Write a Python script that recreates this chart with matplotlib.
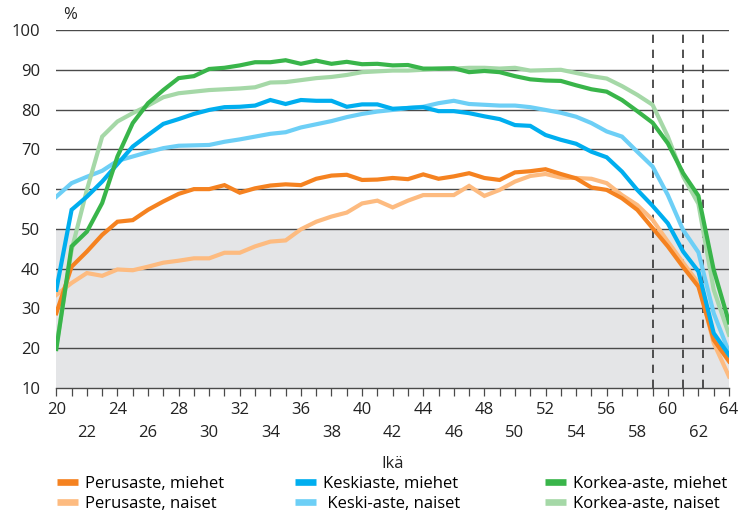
import matplotlib
matplotlib.use("Agg")
import matplotlib.pyplot as plt
import numpy as np

plt.rcParams['font.family'] = ['Open Sans', 'DejaVu Sans']

ages = list(range(20, 65))

perus_miehet = [28.8, 40.5, 44.3, 48.5, 51.8, 52.2, 54.8, 56.9, 58.8, 60.0,
                60.0, 61.0, 59.1, 60.2, 60.9, 61.2, 61.0, 62.6, 63.4, 63.6,
                62.3, 62.4, 62.8, 62.5, 63.7, 62.6, 63.2, 64.0, 62.8, 62.3,
                64.2, 64.5, 65.0, 63.8, 62.7, 60.4, 59.8, 57.7, 54.8, 50.2,
                45.6, 40.4, 35.5, 22.1, 16.7]
perus_naiset = [33.4, 36.4, 38.9, 38.2, 39.8, 39.6, 40.5, 41.5, 42.0, 42.6,
                42.6, 44.0, 44.0, 45.6, 46.8, 47.1, 49.9, 51.8, 53.1, 54.1,
                56.4, 57.1, 55.4, 57.1, 58.5, 58.5, 58.5, 60.8, 58.3, 59.8,
                61.9, 63.3, 63.8, 62.9, 62.8, 62.6, 61.5, 58.5, 56.0, 52.3,
                46.8, 41.5, 36.4, 21.3, 12.9]
keski_miehet = [34.7, 54.8, 58.1, 61.9, 66.3, 70.7, 73.6, 76.4, 77.6, 78.9,
                79.9, 80.6, 80.7, 81.0, 82.4, 81.4, 82.4, 82.2, 82.2, 80.7,
                81.3, 81.3, 80.2, 80.4, 80.6, 79.6, 79.6, 79.1, 78.3, 77.6,
                76.1, 75.9, 73.6, 72.4, 71.4, 69.4, 68.0, 64.4, 59.8, 55.8,
                51.4, 44.3, 39.3, 23.8, 18.3]
keski_naiset = [58.1, 61.5, 63.1, 64.6, 67.1, 68.2, 69.3, 70.3, 70.9, 71.0,
                71.1, 71.9, 72.5, 73.2, 73.9, 74.3, 75.5, 76.3, 77.1, 78.1,
                78.9, 79.5, 79.9, 80.4, 80.7, 81.6, 82.2, 81.4, 81.2, 81.0,
                81.0, 80.6, 79.9, 79.2, 78.2, 76.6, 74.5, 73.2, 69.4, 65.7,
                58.5, 49.7, 44.1, 28.8, 19.0]
korkea_miehet = [19.8, 45.6, 49.3, 56.5, 68.2, 76.6, 81.6, 84.9, 87.9, 88.4,
                 90.2, 90.5, 91.1, 91.9, 91.9, 92.4, 91.5, 92.3, 91.5, 92.0,
                 91.4, 91.5, 91.1, 91.2, 90.3, 90.3, 90.4, 89.4, 89.7, 89.4,
                 88.4, 87.6, 87.3, 87.2, 86.1, 85.1, 84.5, 82.4, 79.6, 76.7,
                 71.5, 64.0, 58.3, 39.7, 26.5]
korkea_naiset = [20.5, 44.7, 59.8, 73.2, 77.0, 79.1, 81.0, 83.1, 84.1, 84.5,
                 84.9, 85.1, 85.3, 85.6, 86.8, 86.9, 87.4, 87.9, 88.2, 88.7,
                 89.4, 89.6, 89.8, 89.8, 90.0, 90.3, 90.3, 90.5, 90.5, 90.3,
                 90.5, 89.8, 89.9, 90.0, 89.2, 88.4, 87.8, 85.9, 83.7, 81.2,
                 73.2, 63.2, 56.3, 34.7, 23.4]

labels = ["Perusaste, miehet", "Perusaste, naiset",
          "Keskiaste, miehet", " Keski-aste, naiset",
          "Korkea-aste, miehet", "Korkea-aste, naiset"]
series = [perus_miehet, perus_naiset, keski_miehet, keski_naiset,
          korkea_miehet, korkea_naiset]
colors = ["#f58220", "#fdbb80", "#00aeef", "#6dcff6", "#39b54a", "#a5d8a7"]

dashed_ages = [59, 61, 62.33]
yticks = list(range(10, 101, 10))

FS = 12
fig = plt.figure(figsize=(7.38, 5.12), dpi=100)
ax = fig.add_axes([0.0763, 0.2422, 0.9115, 0.6992])

ax.set_xlim(20, 64)
ax.set_ylim(10, 100)

ax.axhspan(10, 50, color="#e4e5e7", zorder=0, lw=0)
for y in yticks[1:]:
    ax.axhline(y, color="#4a4a4a", lw=1.0, zorder=1)

for xa in dashed_ages:
    ax.axvline(xa, color="#333333", lw=1.2, ls=(0, (5, 4)), zorder=1.5)

handles = {}
draw_order = [1, 3, 5, 0, 2, 4]
for i in draw_order:
    h, = ax.plot(ages, series[i], color=colors[i], lw=3.0, zorder=3,
                 solid_joinstyle='miter', label=labels[i])
    handles[i] = h

for s in ["left", "right", "top"]:
    ax.spines[s].set_visible(False)
ax.spines["bottom"].set_color("#4a4a4a")
ax.spines["bottom"].set_linewidth(1.0)

ax.set_yticks(yticks)
ax.set_yticklabels([str(v) for v in yticks], fontsize=FS, color="#222222")
ax.tick_params(axis="y", length=0, pad=11.5)

xt = list(range(20, 65, 2))
xl = [str(a) if (a - 20) % 4 == 0 else "\n" + str(a) for a in xt]
ax.set_xticks(xt)
ax.set_xticklabels(xl, fontsize=FS, color="#222222", linespacing=1.6)
ax.set_xticks(ages, minor=True)
ax.tick_params(axis="x", which="both", length=6, width=0.9, color="#4a4a4a",
               direction="out", pad=4)

ax.set_xlabel("Ikä", fontsize=FS, color="#222222", labelpad=11)
ax.text(20.45, 101.8, "%", fontsize=FS, color="#222222", ha="left", va="bottom")

col_x = [57, 295, 545]
for c in range(3):
    idx = [2 * c, 2 * c + 1]
    leg = fig.legend([handles[i] for i in idx], [labels[i] for i in idx],
                     loc="upper left", bbox_to_anchor=(col_x[c] / 738, 0.071),
                     ncol=1, frameon=False, fontsize=FS, handlelength=1.25,
                     handletextpad=0.45, labelspacing=0.28, borderpad=0,
                     borderaxespad=0)
    for line in leg.get_lines():
        line.set_linewidth(4.8)
        line.set_solid_capstyle('butt')

fig.savefig("out.png", dpi=100)
